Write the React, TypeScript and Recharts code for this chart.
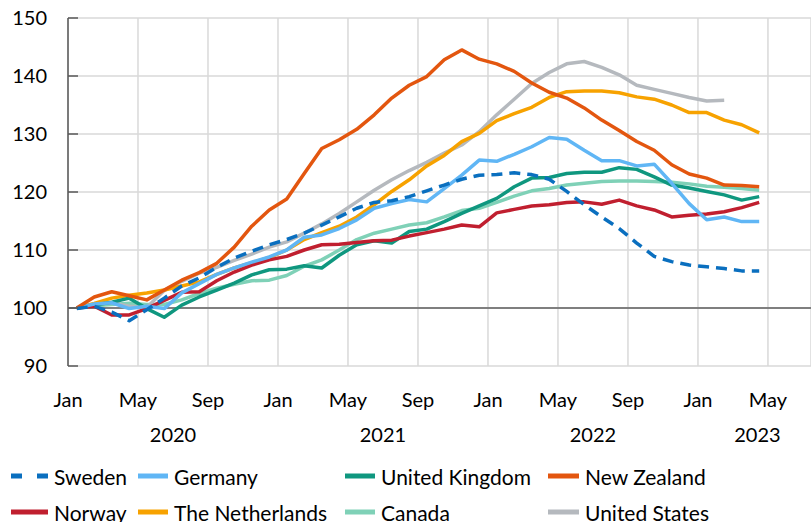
import { CartesianGrid, Line, LineChart, ReferenceLine, XAxis, YAxis } from "recharts";

// monthly index values, Jan 2020 = 100 (Jan 2020 .. Apr 2023)
const sweden = [99.9, 100.3, 99.3, 97.8, 99.7, 101.7, 103.8, 105.2, 107.0, 108.6, 109.8, 110.9, 111.8, 112.9, 114.3, 115.7, 117.2, 118.2, 118.5, 119.2, 120.2, 121.2, 122.2, 122.9, 123.0, 123.3, 123.0, 122.2, 120.1, 117.8, 115.7, 113.7, 111.2, 108.9, 108.0, 107.4, 107.1, 106.8, 106.4, 106.4];
const germany = [100, 100.7, 100.9, 99.9, 100.3, 99.9, 102.6, 104.2, 105.8, 106.9, 107.9, 108.8, 110.0, 112.2, 112.6, 113.7, 115.2, 117.2, 118.0, 118.7, 118.3, 120.6, 122.9, 125.5, 125.3, 126.5, 127.8, 129.4, 129.1, 127.2, 125.4, 125.4, 124.5, 124.8, 121.5, 118.0, 115.2, 115.7, 114.9, 114.9];
const unitedKingdom = [100, 100.5, 101.0, 101.7, 99.9, 98.4, 100.5, 101.9, 103.1, 104.3, 105.7, 106.6, 106.7, 107.3, 106.9, 109.1, 110.9, 111.6, 111.2, 113.2, 113.6, 114.9, 116.3, 117.6, 118.9, 120.9, 122.4, 122.5, 123.2, 123.4, 123.4, 124.2, 123.9, 122.6, 121.2, 120.7, 120.1, 119.5, 118.6, 119.2];
const newZealand = [100, 101.9, 102.8, 102.1, 101.4, 103.1, 104.8, 106.1, 107.7, 110.5, 114.1, 116.9, 118.8, 123.2, 127.5, 129.0, 130.8, 133.3, 136.2, 138.4, 139.9, 142.8, 144.5, 142.9, 142.1, 140.8, 138.8, 137.2, 136.2, 134.5, 132.4, 130.6, 128.7, 127.2, 124.7, 123.1, 122.4, 121.2, 121.1, 120.9];
const norway = [100, 100.3, 98.8, 98.8, 99.9, 101.3, 102.7, 102.8, 104.7, 106.2, 107.4, 108.3, 108.9, 110.0, 110.9, 111.0, 111.3, 111.6, 111.7, 112.4, 113.0, 113.6, 114.3, 114.0, 116.4, 117.0, 117.6, 117.8, 118.2, 118.3, 117.9, 118.6, 117.6, 116.9, 115.7, 116.0, 116.2, 116.6, 117.3, 118.2];
const netherlands = [100, 100.8, 101.7, 102.2, 102.6, 103.1, 103.8, 104.5, 105.8, 106.9, 107.8, 108.7, 110.0, 111.8, 113.0, 114.1, 115.7, 117.8, 120.1, 122.1, 124.5, 126.3, 128.7, 130.1, 132.3, 133.5, 134.6, 136.3, 137.3, 137.4, 137.4, 137.1, 136.4, 136.0, 135.0, 133.7, 133.7, 132.4, 131.6, 130.2];
const canada = [100, 100.4, 100.6, 100.8, 100.6, 100.6, 101.4, 102.5, 103.4, 104.1, 104.7, 104.8, 105.6, 107.2, 108.3, 110.0, 111.8, 112.9, 113.6, 114.3, 114.7, 115.7, 116.8, 117.2, 118.2, 119.3, 120.2, 120.6, 121.2, 121.5, 121.8, 121.9, 121.9, 121.8, 121.7, 121.4, 121.0, 120.8, 120.6, 120.3];
const unitedStates = [100, 100.6, 100.9, 100.3, 100.1, 103.0, 104.6, 106.0, 107.0, 108.2, 109.3, 110.5, 111.4, 112.9, 114.5, 116.3, 118.3, 120.3, 122.1, 123.7, 125.1, 126.7, 128.1, 130.4, 133.3, 136.0, 138.7, 140.6, 142.1, 142.5, 141.5, 140.2, 138.4, 137.7, 137.0, 136.3, 135.7, 135.8, null, null];

const monthTicks = [-0.5, 3.5, 7.5, 11.5, 15.5, 19.5, 23.5, 27.5, 31.5, 35.5, 39.5];
const monthLabels = ["Jan", "May", "Sep", "Jan", "May", "Sep", "Jan", "May", "Sep", "Jan", "May"];
const yearTicks = [5.5, 17.5, 29.5, 38.9];
const yearLabels = ["2020", "2021", "2022", "2023"];
const yTicks = [90, 100, 110, 120, 130, 140, 150];

const series = [
  { key: "Canada", values: canada, color: "#7fd1b7" },
  { key: "United States", values: unitedStates, color: "#b5b9be" },
  { key: "The Netherlands", values: netherlands, color: "#f7a200" },
  { key: "United Kingdom", values: unitedKingdom, color: "#0f977f" },
  { key: "Norway", values: norway, color: "#c01f2f" },
  { key: "Germany", values: germany, color: "#60b6f5" },
  { key: "New Zealand", values: newZealand, color: "#e3560f" },
  { key: "Sweden", values: sweden, color: "#0a6fbf", dash: "11 7" },
];

// name, marker left, marker width, row centre
const legendOrder = [
  ["Sweden", 11, 37, 476],
  ["Germany", 138, 30, 476],
  ["United Kingdom", 345, 30, 476],
  ["New Zealand", 548, 31, 476],
  ["Norway", 11, 37, 512],
  ["The Netherlands", 138, 30, 512],
  ["Canada", 345, 30, 512],
  ["United States", 548, 31, 512],
] as const;

const rows = sweden.map((_, i) => {
  const row: Record<string, number | null> = { idx: i };
  series.forEach((s) => (row[s.key] = s.values[i]));
  return row;
});

const FONT = "Lato, 'Open Sans', sans-serif";

function MonthTick({ x, index }: any) {
  return (
    <text x={x} y={407} textAnchor="middle" fontSize={20} fill="#000" fontFamily={FONT}>
      {monthLabels[index]}
    </text>
  );
}

function YearTick({ x, index }: any) {
  return (
    <text x={x} y={442} textAnchor="middle" fontSize={20} fill="#000" fontFamily={FONT}>
      {yearLabels[index]}
    </text>
  );
}

function ValueTick({ y, payload }: any) {
  return (
    <g>
      <line x1={68} x2={78} y1={y} y2={y} stroke="#595959" strokeWidth={1.5} />
      <text x={47} y={y + 7} textAnchor="end" fontSize={20} fill="#000" fontFamily={FONT}>
        {payload.value}
      </text>
    </g>
  );
}

export default function App() {
  const byKey = Object.fromEntries(series.map((s) => [s.key, s]));
  return (
    <div style={{ position: "absolute", left: 0, top: 0, width: 811, height: 522, background: "#fff", fontFamily: FONT }}>
      <LineChart width={811} height={450} data={rows} margin={{ top: 18, right: 0, bottom: 0, left: 0 }}>
        <CartesianGrid stroke="#d9d9d9" strokeWidth={1.5} />
        <XAxis
          dataKey="idx"
          type="number"
          domain={[-0.5, 41.96]}
          ticks={monthTicks}
          interval={0}
          tick={<MonthTick />}
          tickLine={false}
          axisLine={false}
          height={50}
          allowDataOverflow
        />
        <XAxis
          xAxisId="year"
          dataKey="idx"
          type="number"
          domain={[-0.5, 41.96]}
          ticks={yearTicks}
          interval={0}
          tick={<YearTick />}
          tickLine={false}
          axisLine={false}
          height={34}
          allowDataOverflow
        />
        <YAxis
          domain={[90, 150]}
          ticks={yTicks}
          interval={0}
          width={68}
          tick={<ValueTick />}
          tickLine={false}
          axisLine={{ stroke: "#595959", strokeWidth: 1.5 }}
        />
        <ReferenceLine y={100} stroke="#7f7f7f" strokeWidth={2} />
        {series.map((s) => (
          <Line
            key={s.key}
            dataKey={s.key}
            stroke={s.color}
            strokeWidth={3.5}
            strokeDasharray={s.dash}
            dot={false}
            activeDot={false}
            isAnimationActive={false}
            strokeLinejoin="round"
          />
        ))}
      </LineChart>
      {legendOrder.map(([name, x, w, y]) => {
        const s = byKey[name];
        return (
          <div key={name} style={{ position: "absolute", left: x, top: y - 14, height: 28, display: "flex", alignItems: "center" }}>
            <svg width={w} height={6} style={{ marginRight: 6 }}>
              <line x1={0} x2={w} y1={3} y2={3} stroke={s.color} strokeWidth={5} strokeDasharray={s.dash ? "11 15" : undefined} />
            </svg>
            <span style={{ fontSize: 21, color: "#000", whiteSpace: "nowrap" }}>{name}</span>
          </div>
        );
      })}
    </div>
  );
}
